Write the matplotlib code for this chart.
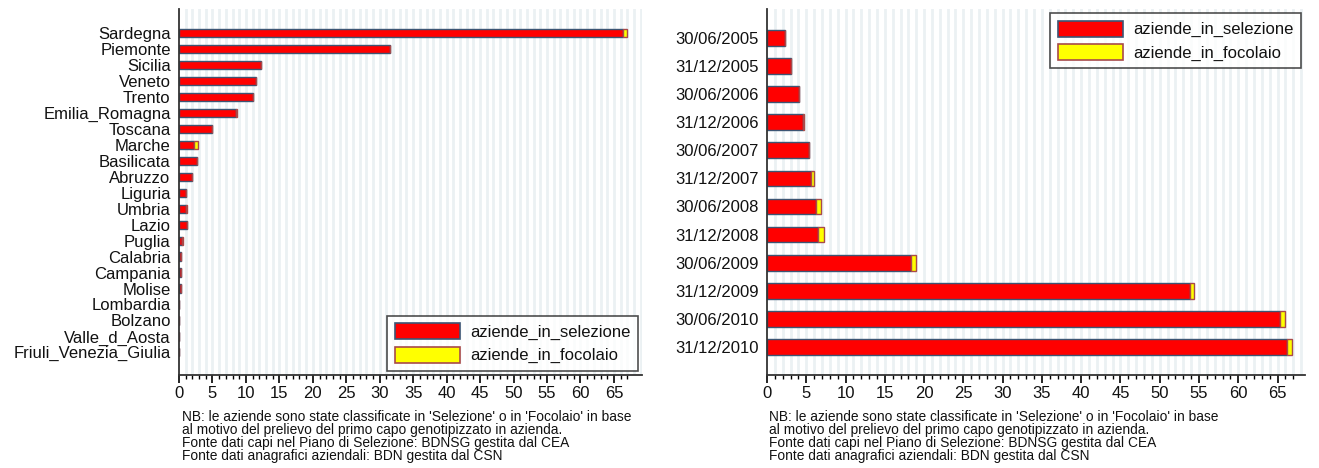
import numpy as np
import matplotlib.pyplot as plt
from matplotlib.patches import Patch

plt.rcParams['font.family'] = ['Liberation Sans', 'DejaVu Sans']

# dati per regione
regioni = ["Sardegna", "Piemonte", "Sicilia", "Veneto", "Trento", "Emilia_Romagna",
           "Toscana", "Marche", "Basilicata", "Abruzzo", "Liguria", "Umbria", "Lazio",
           "Puglia", "Calabria", "Campania", "Molise", "Lombardia", "Bolzano",
           "Valle_d_Aosta", "Friuli_Venezia_Giulia"]
reg_selezione = [66.3, 31.5, 12.2, 11.5, 11.1, 8.5, 4.9, 2.2, 2.7, 1.9, 1.1, 1.1, 1.2,
                 0.5, 0.3, 0.3, 0.3, 0.05, 0, 0, 0]
reg_focolaio = [0.7, 0.1, 0, 0, 0, 0.1, 0.1, 0.7, 0, 0, 0, 0.1, 0,
                0.1, 0.05, 0, 0, 0, 0, 0, 0]

# dati per data
date = ["30/06/2005", "31/12/2005", "30/06/2006", "31/12/2006", "30/06/2007",
        "31/12/2007", "30/06/2008", "31/12/2008", "30/06/2009", "31/12/2009",
        "30/06/2010", "31/12/2010"]
date_selezione = [2.3, 3.0, 4.1, 4.6, 5.3, 5.6, 6.3, 6.5, 18.3, 53.8, 65.3, 66.2]
date_focolaio = [0, 0, 0, 0.1, 0.1, 0.4, 0.6, 0.7, 0.7, 0.6, 0.7, 0.7]

nota = ["NB: le aziende sono state classificate in 'Selezione' o in 'Focolaio' in base",
        "al motivo del prelievo del primo capo genotipizzato in azienda.",
        "Fonte dati capi nel Piano di Selezione: BDNSG gestita dal CEA",
        "Fonte dati anagrafici aziendali: BDN gestita dal CSN"]

RED = "#ff0000"
YEL = "#ffff00"
EDGE_R = "#3c5574"
EDGE_Y = "#a84a4a"
W, H = 1319, 468


def pannello(ax, labels, sel, foc, bh, m_top, m_bot, xmax):
    n = len(labels)
    y = np.arange(n)
    for i in range(1, int(xmax) + 1):
        ax.axvline(i, color="#ebf1f3", lw=2.0, zorder=0)
    ax.barh(y, sel, height=bh, color=RED, edgecolor=EDGE_R, linewidth=1.0, zorder=2)
    ax.barh(y, foc, left=sel, height=bh, color=YEL, edgecolor=EDGE_Y, linewidth=1.0, zorder=2)
    ax.set_ylim(n - 1 + m_bot, -m_top)
    ax.set_xlim(0, xmax)
    ax.set_yticks(y)
    ax.set_yticklabels(labels, fontsize=12, color="#111111")
    ax.tick_params(axis="y", length=0, pad=6)
    ax.set_xticks(np.arange(0, 66, 5))
    ax.set_xticks(np.arange(0, 68, 1), minor=True)
    ax.tick_params(axis="x", which="major", length=6, width=1.2, labelsize=12, pad=2,
                   labelcolor="#111111")
    ax.tick_params(axis="x", which="minor", length=3, width=1)
    for s in ["top", "right"]:
        ax.spines[s].set_visible(False)
    for s in ["left", "bottom"]:
        ax.spines[s].set_color("#333333")
        ax.spines[s].set_linewidth(1.3)


fig = plt.figure(figsize=(W / 100, H / 100), dpi=100)

top, bot = 9, 375
ax1 = fig.add_axes([179 / W, 1 - bot / H, (642 - 179) / W, (bot - top) / H])
ax2 = fig.add_axes([767 / W, 1 - bot / H, (1305 - 767) / W, (bot - top) / H])

pannello(ax1, regioni, reg_selezione, reg_focolaio, 0.52, 1.52, 1.42, 69.2)
pannello(ax2, date, date_selezione, date_focolaio, 0.56, 1.03, 1.0, 68.5)

handles = [Patch(facecolor=RED, edgecolor=EDGE_R, linewidth=1.2, label="aziende_in_selezione"),
           Patch(facecolor=YEL, edgecolor=EDGE_Y, linewidth=1.2, label="aziende_in_focolaio")]
for ax, loc in [(ax1, "lower right"), (ax2, "upper right")]:
    leg = ax.legend(handles=handles, loc=loc, fontsize=12, frameon=True, fancybox=False,
                    handlelength=3.9, handleheight=1.1, handletextpad=0.6,
                    borderpad=0.45, labelspacing=0.38, borderaxespad=0.25)
    leg.get_frame().set_edgecolor("#222222")
    leg.get_frame().set_linewidth(1.2)
    for t in leg.get_texts():
        t.set_color("#111111")

for x0 in [182, 769]:
    for k, riga in enumerate(nota):
        fig.text(x0 / W, 1 - (417 + 13 * k) / H, riga, fontsize=9.9, va="center",
                 ha="left", color="#111111")

fig.savefig("out.png", dpi=100)
